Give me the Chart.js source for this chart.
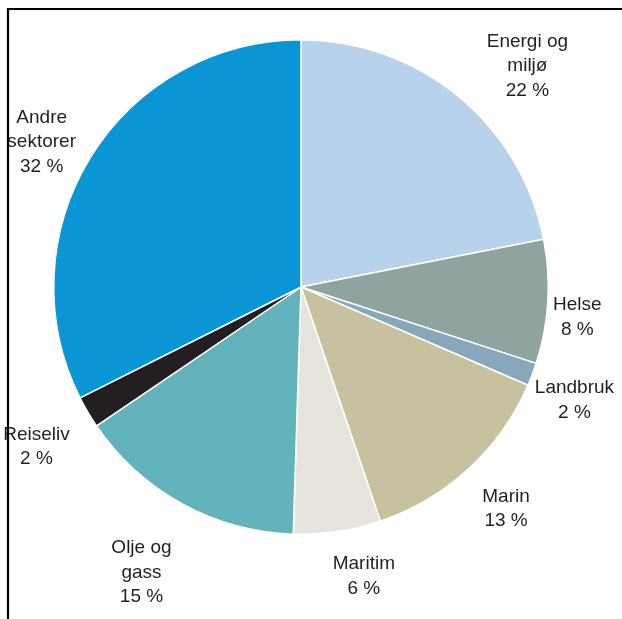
<!DOCTYPE html>
<html>
<head>
<meta charset="utf-8">
<script src="https://cdn.jsdelivr.net/npm/chart.js@4/dist/chart.umd.min.js"></script>
<style>
html,body{margin:0;padding:0;background:#fff;}
#wrap{position:relative;width:622px;height:619px;}
</style>
</head>
<body>
<div id="wrap"><canvas id="c" width="622" height="619"></canvas></div>
<script>
const categories = ["Energi og miljø","Helse","Landbruk","Marin","Maritim","Olje og gass","Reiseliv","Andre sektorer"];
const shares = [21.9, 8.1, 1.5, 13.3, 5.7, 15.0, 2.1, 32.4];
const shareLabels = ["22 %","8 %","2 %","13 %","6 %","15 %","2 %","32 %"];
const labelLines = [["Energi og","miljø"],["Helse"],["Landbruk"],["Marin"],["Maritim"],["Olje og","gass"],["Reiseliv"],["Andre","sektorer"]];
const colors = ["#b9d2ec","#8fa39f","#87a8ba","#c7c19d","#e7e4de","#63b3bc","#231f20","#0a95d5"];
// label placement: distance from centre (px) and angle nudge (deg) relative to slice middle
const labelDist = [316.5, 278, 296, 302, 296, 327, 309, 297];
const labelNudge = [6.25, 2.8, 1.8, -0.1, -3.8, 0.4, -0.7, -2.5];

const labelPlugin = {
  id: 'sliceLabels',
  afterDatasetsDraw(chart) {
    const ctx = chart.ctx;
    const meta = chart.getDatasetMeta(0);
    ctx.save();
    ctx.font = '19px "Liberation Sans", Arial, sans-serif';
    ctx.fillStyle = '#231f20';
    ctx.textAlign = 'center';
    ctx.textBaseline = 'middle';
    const lh = 24.5;
    meta.data.forEach((arc, i) => {
      const mid = (arc.startAngle + arc.endAngle) / 2 + labelNudge[i] * Math.PI / 180;
      const x = arc.x + labelDist[i] * Math.cos(mid);
      const y = arc.y + labelDist[i] * Math.sin(mid);
      const lines = labelLines[i].concat([shareLabels[i]]);
      const y0 = y - (lines.length - 1) * lh / 2;
      lines.forEach((t, k) => ctx.fillText(t, x, y0 + k * lh));
    });
    ctx.restore();
  },
  afterDraw(chart) {
    const ctx = chart.ctx;
    ctx.save();
    ctx.strokeStyle = '#000';
    ctx.lineWidth = 2.2;
    ctx.beginPath();
    ctx.moveTo(8, 619);
    ctx.lineTo(8, 9);
    ctx.lineTo(622, 9);
    ctx.stroke();
    ctx.restore();
  }
};

new Chart(document.getElementById('c'), {
  type: 'pie',
  data: {
    labels: categories,
    datasets: [{
      data: shares,
      backgroundColor: colors,
      borderColor: '#ffffff',
      borderWidth: 1.5
    }]
  },
  options: {
    responsive: false,
    animation: false,
    layout: { padding: { left: 53, top: 39, right: 73, bottom: 84 } },
    plugins: { legend: { display: false }, tooltip: { enabled: false } }
  },
  plugins: [labelPlugin]
});
</script>
</body>
</html>
